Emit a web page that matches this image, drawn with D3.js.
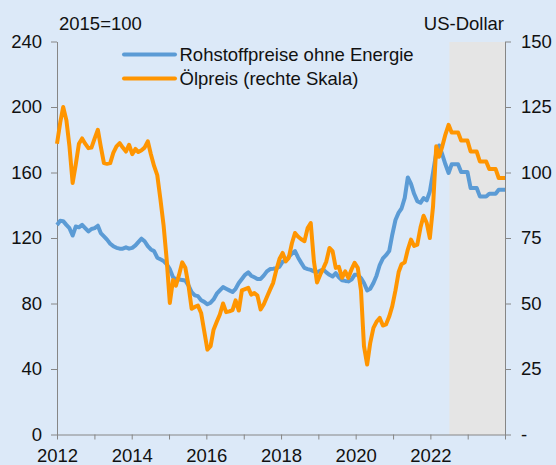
<!DOCTYPE html>
<html>
<head>
<meta charset="utf-8">
<script src="https://cdn.jsdelivr.net/npm/d3@7"></script>
<style>
  html, body { margin: 0; padding: 0; background: #dce9f8; }
  svg { display: block; font-family: "Liberation Sans", Arial, sans-serif; }
</style>
</head>
<body>
<div id="chart"></div>
<script>
// monthly values, Jan 2012 .. Dec 2023
const rohstoffe = [
  128, 130.5, 130.3, 128, 126, 121.5, 127, 126.5, 128, 126, 124, 125.5,        // 2012
  126, 127.5, 123, 121, 119, 116.5, 115, 114, 113.5, 113.5, 114.3, 113.5,      // 2013
  114, 115.5, 117.5, 119.6, 118, 115, 113, 112, 108, 107, 106, 104,            // 2014
  101, 96, 94.8, 94.6, 94.4, 94, 91, 87, 85, 84.5, 82, 81,                     // 2015
  79.5, 80.5, 82.5, 86, 88, 90, 89, 88, 87, 89, 92.5, 95,                      // 2016
  97.5, 99, 97, 96, 95, 95, 97, 99.6, 101, 101.2, 101.5, 102.5,                // 2017
  105.5, 106, 108.5, 110.5, 112, 108, 104.8, 101.7, 101, 100.5, 99.6, 99.2,    // 2018
  100, 100.7, 99, 97.5, 96.5, 98.5, 96, 94.2, 93.8, 93.5, 94.6, 97.5,          // 2019
  97.5, 95.5, 92.5, 88, 89, 92.5, 97, 103.5, 107.5, 109.5, 112, 122,           // 2020
  131, 135.5, 138, 144.5, 157, 153, 147, 142.5, 141.5, 144.4, 143, 148.4,      // 2021
  160, 172, 176.5, 171, 165, 159.7, 165, 165, 165, 160.3, 160.3, 160.3,        // 2022
  150.5, 150.5, 150.5, 145.4, 145.4, 145.4, 147, 147, 147, 149.5, 149.5, 149.5 // 2023
];

const oelpreis = [
  111, 119, 125, 120, 110, 96, 103, 111, 113, 111, 109.3, 109.5,               // 2012
  113, 116.3, 110, 103.6, 103.3, 103.6, 107.5, 110, 111.2, 109.5, 108, 110.6,  // 2013
  107, 109, 107.8, 108.5, 109.5, 111.9, 107, 102.5, 99, 90, 80, 67,            // 2014
  50.2, 59, 56.8, 61, 65.7, 63.6, 57, 48, 48.7, 49.2, 46.4, 39.5,              // 2015
  32.4, 33.7, 40, 43, 45.8, 50, 46.7, 47, 47.5, 51.2, 47.3, 55,                // 2016
  55.5, 56, 53.4, 54, 53, 47.7, 49.6, 52.5, 55.3, 57.9, 62.9, 67,              // 2017
  69.3, 66.1, 67.4, 73, 76.9, 75.5, 74.5, 73.8, 78.8, 80.7, 66, 58,            // 2018
  61, 63.5, 66, 71.2, 70, 63.6, 64, 59.8, 62.3, 59.8, 63, 65.5,                // 2019
  63.6, 55, 33.7, 26.7, 35, 40.7, 43, 44.5, 41.6, 42, 45, 49,                  // 2020
  55, 62, 65, 65.7, 70.6, 74.4, 72, 72.5, 79, 83.5, 80.7, 75,                  // 2021
  87, 110, 106, 110, 114.5, 118.2, 115.3, 115.3, 115.3, 112.2, 112.2, 112.2,   // 2022
  108, 108, 108, 104.2, 104.2, 104.2, 101.3, 101.3, 101.3, 97.9, 97.9, 97.9    // 2023
];

const startYear = 2012;
const endYear = 2024;
const labelYears = [2012, 2014, 2016, 2018, 2020, 2022];
const leftTicks = [0, 40, 80, 120, 160, 200, 240];
const rightTicks = [0, 25, 50, 75, 100, 125, 150];
const forecastStart = new Date(2022, 6, 1);

const seriesNames = ["Rohstoffpreise ohne Energie", "Ölpreis (rechte Skala)"];
const seriesColors = ["#5b9bd5", "#ff9500"];

const width = 556, height = 465;
const plotLeft = 57, plotRight = 505, plotTop = 41.5, plotBottom = 434.5;
const fontSize = "18.5px";

const svg = d3.select("#chart")
  .append("svg")
  .attr("width", width)
  .attr("height", height);

const months = rohstoffe.map((d, i) => new Date(startYear, i, 1));

// data points run from first to last month over the full width
const x = d3.scaleTime()
  .domain([months[0], months[months.length - 1]])
  .range([plotLeft, plotRight]);

// axis ticks sit on year boundaries
const xAxisScale = d3.scaleTime()
  .domain([new Date(startYear, 0, 1), new Date(endYear, 0, 1)])
  .range([plotLeft, plotRight]);

const yLeft = d3.scaleLinear().domain([0, 240]).range([plotBottom, plotTop]);
const yRight = d3.scaleLinear().domain([0, 150]).range([plotBottom, plotTop]);

// forecast shading
svg.append("rect")
  .attr("x", xAxisScale(forecastStart) + 0.5)
  .attr("y", yLeft(240) + 0.5)
  .attr("width", xAxisScale(new Date(endYear, 0, 1)) - xAxisScale(forecastStart))
  .attr("height", yLeft(0) - yLeft(240))
  .attr("fill", "#e5e5e5");

const styleAxis = g => {
  g.attr("font-family", null).attr("font-size", null);
  g.select(".domain").attr("stroke", "#868686");
  g.selectAll(".tick line").attr("stroke", "#868686");
  g.selectAll(".tick text")
    .attr("fill", "#111")
    .style("font-size", fontSize)
    .style("font-family", "'Liberation Sans', Arial, sans-serif");
};

const yearTicks = d3.range(startYear, endYear + 1).map(y => new Date(y, 0, 1));

svg.append("g")
  .attr("transform", `translate(0,${plotBottom})`)
  .call(d3.axisBottom(xAxisScale)
    .tickValues(yearTicks)
    .tickSize(5)
    .tickSizeOuter(0)
    .tickPadding(9)
    .tickFormat(d => labelYears.includes(d.getFullYear()) ? d.getFullYear() : ""))
  .call(styleAxis);

svg.append("g")
  .attr("transform", `translate(${plotLeft},0)`)
  .call(d3.axisLeft(yLeft)
    .tickValues(leftTicks)
    .tickSize(6)
    .tickSizeOuter(0)
    .tickPadding(9)
    .tickFormat(d3.format("d")))
  .call(styleAxis);

svg.append("g")
  .attr("transform", `translate(${plotRight},0)`)
  .call(d3.axisRight(yRight)
    .tickValues(rightTicks)
    .tickSize(6)
    .tickSizeOuter(0)
    .tickPadding(10)
    .tickFormat(d => d === 0 ? "-" : d))
  .call(styleAxis);

const lineLeft = d3.line()
  .x((d, i) => x(months[i]))
  .y(d => yLeft(d));

const lineRight = d3.line()
  .x((d, i) => x(months[i]))
  .y(d => yRight(d));

svg.append("path")
  .datum(rohstoffe)
  .attr("fill", "none")
  .attr("stroke", seriesColors[0])
  .attr("stroke-width", 4)
  .attr("stroke-linejoin", "round")
  .attr("d", lineLeft);

svg.append("path")
  .datum(oelpreis)
  .attr("fill", "none")
  .attr("stroke", seriesColors[1])
  .attr("stroke-width", 4)
  .attr("stroke-linejoin", "round")
  .attr("d", lineRight);

// unit labels
svg.append("text")
  .attr("x", 59)
  .attr("y", 29.5)
  .attr("fill", "#111")
  .style("font-size", fontSize)
  .text("2015=100");

svg.append("text")
  .attr("x", 504)
  .attr("y", 29.5)
  .attr("text-anchor", "end")
  .attr("fill", "#111")
  .style("font-size", fontSize)
  .text("US-Dollar");

// legend
const legend = svg.append("g")
  .selectAll("g")
  .data(seriesNames)
  .join("g")
  .attr("transform", (d, i) => `translate(0,${54.5 + i * 24})`);

legend.append("line")
  .attr("x1", 124)
  .attr("x2", 175)
  .attr("stroke", (d, i) => seriesColors[i])
  .attr("stroke-width", 4)
  .attr("stroke-linecap", "round");

legend.append("text")
  .attr("x", 179.5)
  .attr("y", 6.5)
  .attr("fill", "#111")
  .style("font-size", fontSize)
  .text(d => d);
</script>
</body>
</html>
